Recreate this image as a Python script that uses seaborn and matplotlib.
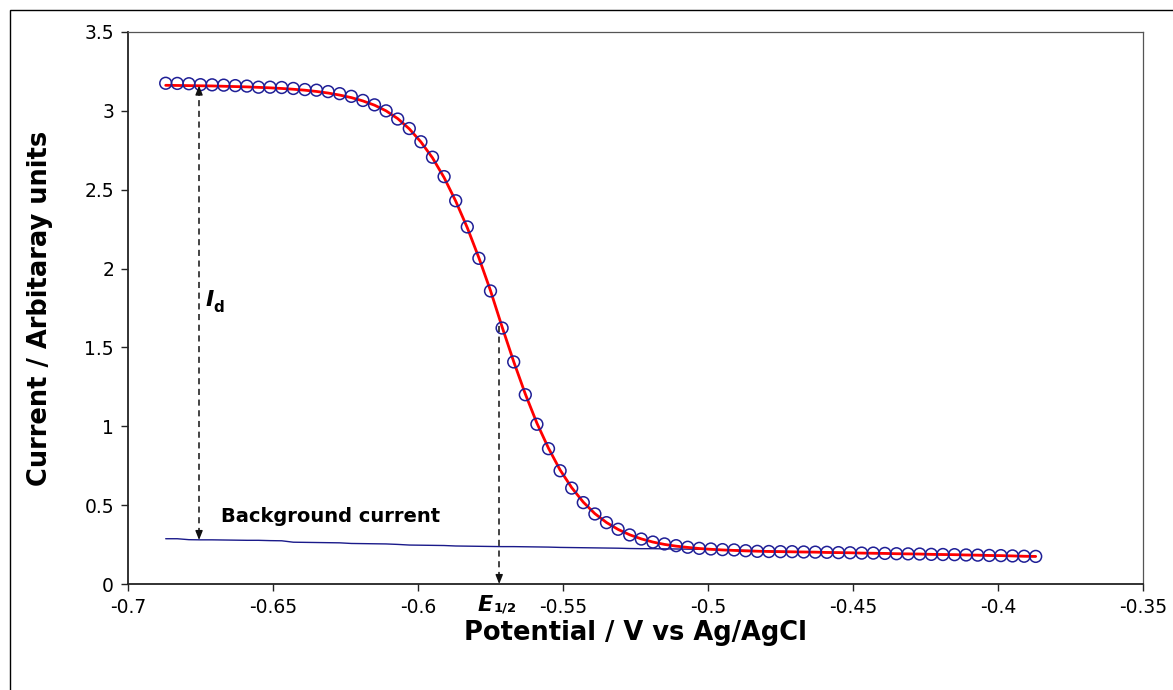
import matplotlib
matplotlib.use("Agg")
import matplotlib.pyplot as plt
from matplotlib.patches import Rectangle
import seaborn as sns
import pandas as pd

# Potential sweep (V vs Ag/AgCl)
potential = [
    -0.687, -0.683, -0.679, -0.675, -0.671, -0.667, -0.663, -0.659, -0.655, -0.651,
    -0.647, -0.643, -0.639, -0.635, -0.631, -0.627, -0.623, -0.619, -0.615, -0.611,
    -0.607, -0.603, -0.599, -0.595, -0.591, -0.587, -0.583, -0.579, -0.575, -0.571,
    -0.567, -0.563, -0.559, -0.555, -0.551, -0.547, -0.543, -0.539, -0.535, -0.531,
    -0.527, -0.523, -0.519, -0.515, -0.511, -0.507, -0.503, -0.499, -0.495, -0.491,
    -0.487, -0.483, -0.479, -0.475, -0.471, -0.467, -0.463, -0.459, -0.455, -0.451,
    -0.447, -0.443, -0.439, -0.435, -0.431, -0.427, -0.423, -0.419, -0.415, -0.411,
    -0.407, -0.403, -0.399, -0.395, -0.391, -0.387,
]

# Measured current (open circles)
current = [
    3.175, 3.174, 3.172, 3.166, 3.165, 3.163, 3.160, 3.157, 3.150, 3.150,
    3.148, 3.142, 3.135, 3.131, 3.122, 3.109, 3.092, 3.066, 3.038, 3.000,
    2.948, 2.888, 2.804, 2.706, 2.583, 2.430, 2.264, 2.065, 1.858, 1.623,
    1.408, 1.200, 1.013, 0.858, 0.718, 0.608, 0.516, 0.444, 0.389, 0.347,
    0.311, 0.285, 0.266, 0.254, 0.243, 0.233, 0.226, 0.222, 0.218, 0.216,
    0.211, 0.207, 0.206, 0.205, 0.205, 0.203, 0.202, 0.201, 0.199, 0.198,
    0.196, 0.196, 0.194, 0.192, 0.191, 0.190, 0.188, 0.187, 0.186, 0.184,
    0.183, 0.181, 0.180, 0.178, 0.176, 0.175,
]

# Fitted polarographic wave (red curve)
fitted = [
    3.162, 3.161, 3.160, 3.159, 3.158, 3.156, 3.154, 3.152, 3.149, 3.146,
    3.142, 3.137, 3.131, 3.123, 3.113, 3.100, 3.084, 3.063, 3.036, 3.000,
    2.951, 2.886, 2.803, 2.702, 2.577, 2.428, 2.259, 2.068, 1.860, 1.630,
    1.410, 1.205, 1.020, 0.861, 0.723, 0.611, 0.519, 0.446, 0.390, 0.346,
    0.312, 0.286, 0.266, 0.251, 0.240, 0.232, 0.225, 0.220, 0.216, 0.213,
    0.210, 0.208, 0.206, 0.205, 0.204, 0.203, 0.202, 0.200, 0.199, 0.198,
    0.196, 0.195, 0.194, 0.192, 0.191, 0.190, 0.188, 0.187, 0.186, 0.184,
    0.183, 0.181, 0.180, 0.178, 0.176, 0.175,
]

# Background (residual) current
background = [
    0.287, 0.287, 0.281, 0.280, 0.280, 0.279, 0.278, 0.277, 0.277, 0.275,
    0.274, 0.265, 0.264, 0.263, 0.262, 0.261, 0.257, 0.256, 0.255, 0.254,
    0.251, 0.247, 0.246, 0.245, 0.244, 0.241, 0.240, 0.239, 0.238, 0.237,
    0.237, 0.236, 0.235, 0.234, 0.232, 0.231, 0.230, 0.229, 0.228, 0.227,
    0.225, 0.224, 0.224, 0.223, 0.222, 0.221, 0.220, 0.219, 0.217, 0.215,
    0.213, 0.211, 0.209, 0.207, 0.205, 0.203, 0.202, 0.200, 0.199, 0.197,
    0.196, 0.194, 0.193, 0.192, 0.190, 0.189, 0.187, 0.186, 0.184, 0.183,
    0.181, 0.180, 0.178, 0.176, 0.175, 0.174,
]

# Limiting-current marker (potential, plateau current, background current)
id_marker = [-0.6755, 3.16, 0.279]
# Half-wave potential marker (potential, current at E1/2)
e_half = [-0.572, 1.66]

x_ticks = [-0.7, -0.65, -0.6, -0.55, -0.5, -0.45, -0.4, -0.35]
x_tick_labels = ["-0.7", "-0.65", "-0.6", "-0.55", "-0.5", "-0.45", "-0.4", "-0.35"]
y_ticks = [0, 0.5, 1, 1.5, 2, 2.5, 3, 3.5]
y_tick_labels = ["0", "0.5", "1", "1.5", "2", "2.5", "3", "3.5"]

df = pd.DataFrame({
    "potential": potential,
    "current": current,
    "fitted": fitted,
    "background": background,
})

sns.set_theme(style="white")
plt.rcParams["font.family"] = ["DejaVu Sans"]
plt.rcParams["axes.unicode_minus"] = False
plt.rcParams["text.color"] = "black"
plt.rcParams["axes.labelcolor"] = "black"

W, H = 1173, 690
fig = plt.figure(figsize=(W / 100, H / 100), dpi=100)
ax = fig.add_axes([128 / W, 1 - 584 / H, (1143 - 128) / W, (584 - 32) / H])

navy = "#1f1f96"
sns.lineplot(data=df, x="potential", y="background", color="#1a1a8a",
             linewidth=1.0, ax=ax, zorder=2)
sns.lineplot(data=df, x="potential", y="fitted", color="#ff0000",
             linewidth=2.0, ax=ax, zorder=3)
sns.scatterplot(data=df, x="potential", y="current", marker="o", s=72,
                facecolors="none", edgecolor=navy, linewidth=1.1,
                ax=ax, zorder=4)

ax.set_xlim(-0.7, -0.35)
ax.set_ylim(0, 3.5)
ax.set_xticks(x_ticks)
ax.set_xticklabels(x_tick_labels)
ax.set_yticks(y_ticks)
ax.set_yticklabels(y_tick_labels)
ax.tick_params(axis="both", which="major", direction="out", length=5, width=1,
               color="#222222", labelsize=13.5, labelcolor="black", pad=5,
               bottom=True, left=True)
ax.grid(False)

for side in ("left", "bottom"):
    ax.spines[side].set_color("#222222")
    ax.spines[side].set_linewidth(1.3)
for side in ("top", "right"):
    ax.spines[side].set_color("#555555")
    ax.spines[side].set_linewidth(0.9)

ax.set_xlabel("Potential / V vs Ag/AgCl", fontsize=18.5, fontweight="bold",
              labelpad=2)
ax.set_ylabel("Current / Arbitaray units", fontsize=18.5, fontweight="bold",
              labelpad=23)

# Dashed guides with arrow heads
dash = (0, (4, 3))
x_id, top_id, bot_id = id_marker
ax.plot([x_id, x_id], [bot_id + 0.04, top_id - 0.04], color="#111111",
        lw=1.1, linestyle=dash, zorder=5)
for tip, start in ((top_id, top_id - 0.06), (bot_id, bot_id + 0.06)):
    ax.annotate("", xy=(x_id, tip), xytext=(x_id, start),
                arrowprops=dict(arrowstyle="-|>,head_length=0.45,head_width=0.18",
                                color="#111111", lw=1.0, shrinkA=0, shrinkB=0),
                zorder=6)

x_e, top_e = e_half
ax.plot([x_e, x_e], [0.04, top_e], color="#111111", lw=1.1, linestyle=dash,
        zorder=5)
ax.annotate("", xy=(x_e, 0.0), xytext=(x_e, 0.06),
            arrowprops=dict(arrowstyle="-|>,head_length=0.45,head_width=0.18",
                            color="#111111", lw=1.0, shrinkA=0, shrinkB=0),
            zorder=6)

# Labels on the curve
ax.text(-0.6731, 1.80, "I", fontsize=16, fontweight="bold", style="italic",
        ha="left", va="center")
ax.text(-0.6705, 1.75, "d", fontsize=11, fontweight="bold",
        ha="left", va="center")
ax.text(-0.6679, 0.43, "Background current", fontsize=14, fontweight="bold",
        ha="left", va="center")
ax.text(-0.5795, -0.135, "E", fontsize=16, fontweight="bold", style="italic",
        ha="left", va="center", clip_on=False)
ax.text(-0.5738, -0.155, "1/2", fontsize=9.5, fontweight="bold",
        ha="left", va="center", clip_on=False)

# Outer frame around the chart
fig.add_artist(Rectangle((10 / W, -0.02), 1.05, 1 - 10 / H + 0.02,
                         transform=fig.transFigure, fill=False,
                         edgecolor="black", linewidth=1.0))

fig.savefig("out.png", dpi=100, facecolor="white")
